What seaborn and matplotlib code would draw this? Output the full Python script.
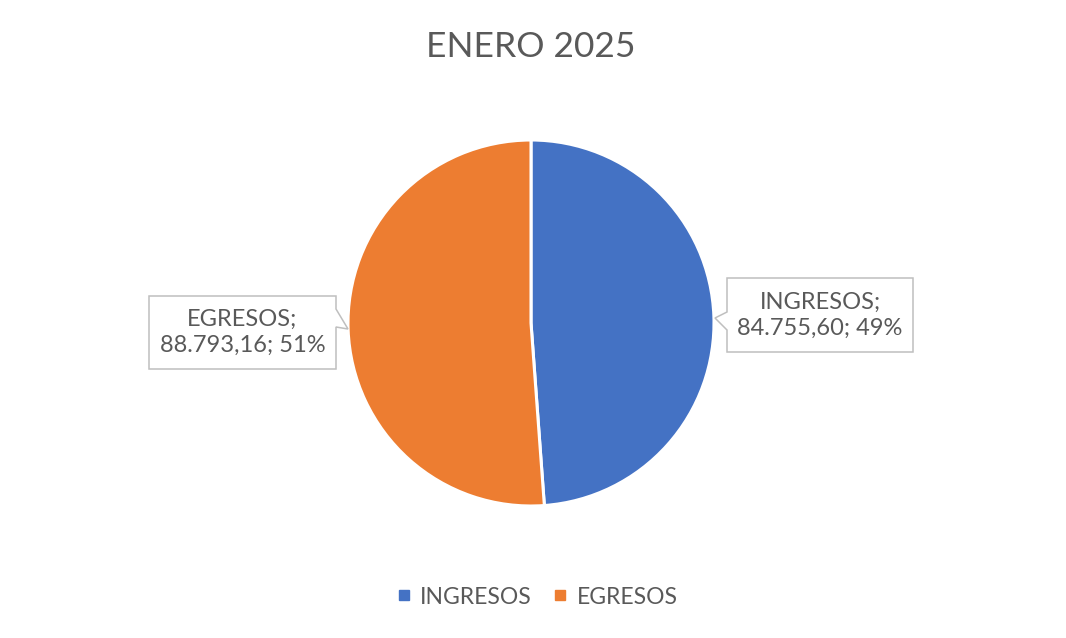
import matplotlib
matplotlib.use("Agg")
import matplotlib.pyplot as plt
from matplotlib.patches import Polygon
from matplotlib.lines import Line2D
import seaborn as sns

categories = ["INGRESOS", "EGRESOS"]
values = [84755.60, 88793.16]
colors = ["#4472C4", "#ED7D31"]
title = "ENERO 2025"

sns.set_theme(style="white")
plt.rcParams["font.family"] = ["Lato", "DejaVu Sans"]

W, H = 1066, 638
fig = plt.figure(figsize=(W / 100, H / 100), dpi=100)
ax = fig.add_axes([0, 0, 1, 1])
ax.set_xlim(0, W)
ax.set_ylim(0, H)
ax.set_aspect("equal")
ax.axis("off")

def py(y):
    return H - y

cx, cy, r = 531, py(323), 183
wedges, _ = ax.pie(values, colors=colors, startangle=90, counterclock=False,
                   center=(cx, cy), radius=r, frame=True,
                   wedgeprops=dict(edgecolor="white", linewidth=2.2))
ax.set_xlim(0, W)
ax.set_ylim(0, H)
ax.axis("off")

def fmt(v):
    s = f"{v:,.2f}"
    return s.replace(",", "X").replace(".", ",").replace("X", ".")

total = sum(values)
labels = [f"{c};\n{fmt(v)}; {round(v / total * 100)}%" for c, v in zip(categories, values)]

txt_color = "#595959"
edge = "#BFBFBF"

# INGRESOS callout (pointer on left)
l, t, rr, b = 727, 278, 913, 352
poly = [(l, py(t)), (rr, py(t)), (rr, py(b)), (l, py(b)), (l, py(330)), (715, py(318)), (l, py(312))]
ax.add_patch(Polygon(poly, closed=True, facecolor="white", edgecolor=edge, linewidth=1.1, zorder=5))
ax.text((l + rr) / 2, py((t + b) / 2), labels[0], ha="center", va="center",
        fontsize=17, color=txt_color, linespacing=1.3, zorder=6)

# EGRESOS callout (pointer on right)
l, t, rr, b = 149, 296, 336, 369
poly = [(l, py(t)), (rr, py(t)), (rr, py(309)), (348, py(329)), (rr, py(327)), (rr, py(b)), (l, py(b))]
ax.add_patch(Polygon(poly, closed=True, facecolor="white", edgecolor=edge, linewidth=1.1, zorder=5))
ax.text((l + rr) / 2, py((t + b) / 2), labels[1], ha="center", va="center",
        fontsize=17, color=txt_color, linespacing=1.3, zorder=6)

fig.text(0.498, 1 - 47 / H, title, ha="center", va="center", fontsize=25.5, color=txt_color)

handles = [Line2D([0], [0], marker="s", linestyle="", markersize=7,
                  markerfacecolor=c, markeredgecolor=c) for c in colors]
fig.legend(handles, categories, loc="center", bbox_to_anchor=(0.503, 1 - 597 / H),
           ncol=2, frameon=False, fontsize=16.5, labelcolor=txt_color,
           handletextpad=0.3, columnspacing=0.85, handlelength=0.8)

fig.savefig("out.png", dpi=100)
